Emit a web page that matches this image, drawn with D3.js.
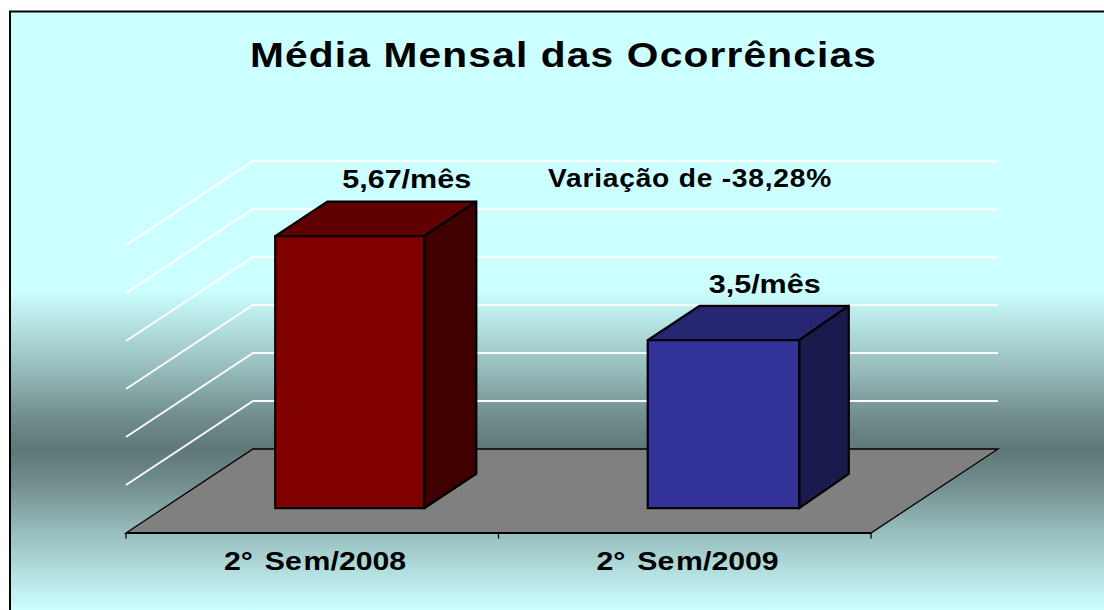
<!DOCTYPE html>
<html>
<head>
<meta charset="utf-8">
<script src="https://cdn.jsdelivr.net/npm/d3@7"></script>
<style>
html, body { margin: 0; padding: 0; background: #fff; overflow: hidden; }
svg { display: block; }
text { font-family: "Liberation Sans", Arial, sans-serif; font-weight: bold; fill: #000; }
</style>
</head>
<body>
<div id="chart"></div>
<script>
// values
var categories = ["2° Sem/2008", "2° Sem/2009"];
var values = [5.67, 3.5];
var valueLabels = ["5,67/mês", "3,5/mês"];
var yTicks = [1, 2, 3, 4, 5, 6];
var chartTitle = "Média Mensal das Ocorrências";
var note = "Variação de -38,28%";

var faceColors = ["#800000", "#333399"];
var topColors = ["#600000", "#262673"];
var sideColors = ["#400000", "#1a1a4d"];

var width = 1104, height = 610;
var depthX = 127, depthY = 84; // projection of the full floor depth
var barNear = 0.295, barFar = 0.705; // where the bars sit in that depth

var svg = d3.select("#chart").append("svg")
    .attr("width", width)
    .attr("height", height);

// background: flat on top, dark band around the floor
var defs = svg.append("defs");
var grad = defs.append("linearGradient")
    .attr("id", "bg")
    .attr("gradientUnits", "userSpaceOnUse")
    .attr("x1", 0).attr("x2", 0).attr("y1", 290).attr("y2", 610);
grad.append("stop").attr("offset", 0).attr("stop-color", "#ccffff");
grad.append("stop").attr("offset", 0.25).attr("stop-color", "#96bbbb");
grad.append("stop").attr("offset", 0.4).attr("stop-color", "#708c8c");
grad.append("stop").attr("offset", 0.5).attr("stop-color", "#5f7777");
grad.append("stop").attr("offset", 0.6).attr("stop-color", "#708c8c");
grad.append("stop").attr("offset", 0.75).attr("stop-color", "#96bbbb");
grad.append("stop").attr("offset", 1).attr("stop-color", "#ccffff");

svg.append("rect")
    .attr("x", 10).attr("y", 11.5)
    .attr("width", width + 10).attr("height", height + 10)
    .attr("fill", "url(#bg)")
    .attr("stroke", "#000")
    .attr("stroke-width", 2);

var x = d3.scaleBand()
    .domain(categories)
    .range([126, 871])
    .paddingInner(0.6)
    .paddingOuter(0.3);

var y = d3.scaleLinear()
    .domain([0, 6])
    .range([533, 245]);

// category boundaries for the axis ticks
var xEdge = d3.scaleLinear()
    .domain([0, categories.length])
    .range(x.range());

// gridlines on side wall and back wall
var grid = svg.append("g")
    .attr("fill", "none")
    .attr("stroke", "#fff")
    .attr("stroke-width", 1.8);

grid.selectAll("path")
    .data(yTicks)
    .enter().append("path")
    .attr("d", function(d) {
        var x0 = x.range()[0], x1 = x.range()[1];
        return "M" + x0 + "," + y(d)
            + "L" + (x0 + depthX) + "," + (y(d) - depthY)
            + "L" + (x1 + depthX) + "," + (y(d) - depthY);
    });

// floor
var fx0 = x.range()[0], fx1 = x.range()[1], fy = y(0);
svg.append("path")
    .attr("d", "M" + fx0 + "," + fy
        + "L" + (fx0 + depthX) + "," + (fy - depthY)
        + "L" + (fx1 + depthX) + "," + (fy - depthY)
        + "L" + fx1 + "," + fy + "Z")
    .attr("fill", "#808080")
    .attr("stroke", "#000")
    .attr("stroke-width", 1.3);

// axis line and ticks
svg.append("line")
    .attr("x1", fx0).attr("x2", fx1)
    .attr("y1", fy).attr("y2", fy)
    .attr("stroke", "#000").attr("stroke-width", 2);

svg.append("g").selectAll("line")
    .data(d3.range(categories.length + 1))
    .enter().append("line")
    .attr("x1", function(d) { return xEdge(d); })
    .attr("x2", function(d) { return xEdge(d); })
    .attr("y1", fy)
    .attr("y2", fy + 5.5)
    .attr("stroke", "#000")
    .attr("stroke-width", 1.3);

// bars: front, top and side faces
var nearX = depthX * barNear, nearY = depthY * barNear;
var dx = depthX * (barFar - barNear), dy = depthY * (barFar - barNear);
var widen = [0, 2.5]; // pixel rounding in the original, back edge stays put

var bars = svg.append("g")
    .selectAll("g")
    .data(categories)
    .enter().append("g")
    .attr("stroke", "#000")
    .attr("stroke-width", 2.2)
    .attr("stroke-linejoin", "round");

function barBox(i) {
    var l = x(categories[i]) + nearX;
    return {
        l: l,
        r: l + x.bandwidth() + widen[i],
        t: y(values[i]) - nearY,
        b: y(0) - nearY,
        dx: dx - widen[i]
    };
}

bars.append("path")
    .attr("fill", function(d, i) { return topColors[i]; })
    .attr("d", function(d, i) {
        var b = barBox(i);
        return "M" + b.l + "," + b.t + "L" + (b.l + dx) + "," + (b.t - dy)
            + "L" + (b.r + b.dx) + "," + (b.t - dy) + "L" + b.r + "," + b.t + "Z";
    });

bars.append("path")
    .attr("fill", function(d, i) { return sideColors[i]; })
    .attr("d", function(d, i) {
        var b = barBox(i);
        return "M" + b.r + "," + b.t + "L" + (b.r + b.dx) + "," + (b.t - dy)
            + "L" + (b.r + b.dx) + "," + (b.b - dy) + "L" + b.r + "," + b.b + "Z";
    });

bars.append("rect")
    .attr("fill", function(d, i) { return faceColors[i]; })
    .attr("x", function(d, i) { return barBox(i).l; })
    .attr("y", function(d, i) { return barBox(i).t; })
    .attr("width", function(d, i) { var b = barBox(i); return b.r - b.l; })
    .attr("height", function(d, i) { var b = barBox(i); return b.b - b.t; });

// title and note, the original text is stretched sideways
svg.append("text")
    .attr("x", 250).attr("y", 67)
    .attr("font-size", 35)
    .style("letter-spacing", "1px")
    .attr("textLength", 627)
    .attr("lengthAdjust", "spacingAndGlyphs")
    .text(chartTitle);

svg.append("text")
    .attr("x", 548).attr("y", 187)
    .attr("font-size", 25.5)
    .style("letter-spacing", "0.7px")
    .attr("textLength", 284)
    .attr("lengthAdjust", "spacingAndGlyphs")
    .text(note);

// value labels, offset from the bar top
var labelShift = [[67, -48], [61, -47]];
var labelWidth = [129, 112];
svg.append("g").selectAll("text")
    .data(valueLabels)
    .enter().append("text")
    .attr("font-size", 25.5)
    .attr("x", function(d, i) { return barBox(i).l + labelShift[i][0]; })
    .attr("y", function(d, i) { return barBox(i).t + labelShift[i][1]; })
    .attr("textLength", function(d, i) { return labelWidth[i]; })
    .attr("lengthAdjust", "spacingAndGlyphs")
    .text(function(d) { return d; });

// category labels, the "Se m" gap comes from the original renderer
var cat = svg.append("g").selectAll("text")
    .data(categories)
    .enter().append("text")
    .attr("font-size", 25.5)
    .attr("text-anchor", "middle");

cat.append("tspan").text(function(d) { return d.slice(0, 3); });
cat.append("tspan").text(function(d) { return d.slice(3, 5); }).attr("dx", 3);
cat.append("tspan").text(function(d) { return d.slice(5); }).attr("dx", 1.5);

cat.attr("transform", function(d, i) {
    var k = 177 / this.getComputedTextLength();
    return "translate(" + (xEdge(i + 0.5) + 2.8) + ",570) scale(" + k + ",1)";
});
</script>
</body>
</html>
